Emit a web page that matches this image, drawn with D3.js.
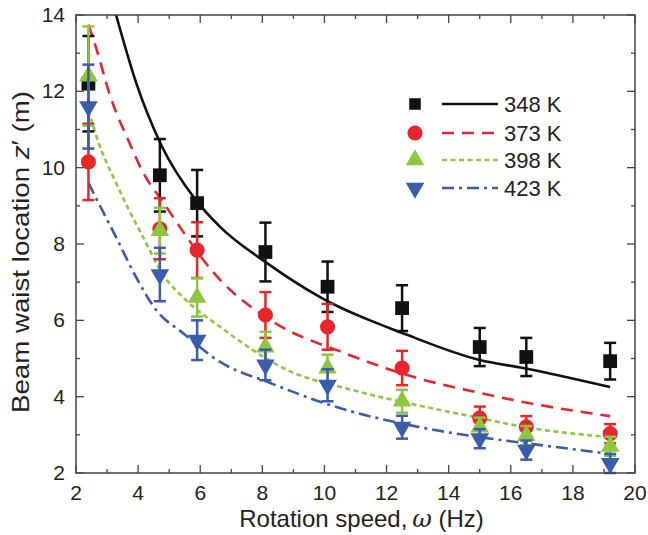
<!DOCTYPE html>
<html>
<head>
<meta charset="utf-8">
<script src="https://cdn.jsdelivr.net/npm/d3@7"></script>
<style>
  body { margin: 0; background: #fff; }
  text { font-family: Arial, "Liberation Sans", sans-serif; fill: #222; }
</style>
</head>
<body>
<div id="chart"></div>
<script>
// rotation speed (Hz) at which each temperature was measured
var speeds = [2.4, 4.7, 5.9, 8.1, 10.1, 12.5, 15, 16.5, 19.2]

var z348 = [12.2, 9.8, 9.07, 7.79, 6.88, 6.32, 5.3, 5.04, 4.93]
var e348 = [1.25, 0.95, 0.87, 0.77, 0.66, 0.6, 0.5, 0.5, 0.48]
var z373 = [10.15, 8.4, 7.84, 6.14, 5.83, 4.75, 3.44, 3.21, 3.03]
var e373 = [1.0, 0.8, 0.73, 0.6, 0.6, 0.45, 0.3, 0.28, 0.25]
var z398 = [12.4, 8.35, 6.6, 5.3, 4.75, 3.88, 3.2, 2.98, 2.7]
var e398 = [1.3, 0.6, 0.5, 0.4, 0.35, 0.3, 0.25, 0.25, 0.25]
var z423 = [11.6, 7.2, 5.48, 4.83, 4.3, 3.2, 2.9, 2.6, 2.25]
var e423 = [1.1, 0.7, 0.52, 0.4, 0.42, 0.3, 0.25, 0.25, 0.25]

// fitted curves as [speed, z]
var fit348 = [[3.29, 14], [3.93, 12.24], [4.74, 10.6], [5.86, 9.15], [6.64, 8.45], [8.15, 7.5],
  [9.86, 6.61], [12.66, 5.62], [15, 4.96], [16.4, 4.75], [19.2, 4.25]]
var fit373 = [[2.4, 13.75], [2.7, 13.0], [3.06, 11.98], [3.71, 10.67], [4.15, 9.89], [4.8, 9.1],
  [6.64, 7.06], [8.25, 6.01], [10.72, 5.12], [12.85, 4.52], [15, 4.1], [16.4, 3.86], [19.2, 3.49]]
var fit398 = [[2.4, 11.5], [2.75, 10.6], [3.29, 9.6], [3.7, 8.9], [4.16, 8.18], [4.8, 7.2],
  [5.54, 6.53], [6.64, 5.83], [8.8, 4.7], [10.92, 4.17], [12.98, 3.78], [15, 3.44], [16.4, 3.21], [19.2, 2.94]]
var fit423 = [[2.4, 9.6], [2.74, 9.05], [3.29, 8.18], [3.93, 7.14], [4.58, 6.27], [5.44, 5.67],
  [6.64, 4.91], [8.25, 4.36], [10.18, 3.78], [13.07, 3.2], [15, 2.94], [16.4, 2.79], [19.2, 2.5]]

var labels = ['348 K', '373 K', '398 K', '423 K']
var xTicks = [2, 4, 6, 8, 10, 12, 14, 16, 18, 20]
var yTicks = [2, 4, 6, 8, 10, 12, 14]

var series = [
  {name: labels[0], z: z348, err: e348, fit: fit348, color: '#111111', shape: 'square', dash: null},
  {name: labels[1], z: z373, err: e373, fit: fit373, color: '#e8252b', shape: 'circle', dash: '12,8'},
  {name: labels[2], z: z398, err: e398, fit: fit398, color: '#8dc63f', shape: 'up', dash: '5,3.5'},
  {name: labels[3], z: z423, err: e423, fit: fit423, color: '#3b5bab', shape: 'down', dash: '12,5,3,5'}
]

var totalW = 648, totalH = 535
var margin = {left: 76, right: 13, top: 15, bottom: 62}
var width = totalW - margin.left - margin.right
var height = totalH - margin.top - margin.bottom

var svg = d3.select('#chart').append('svg')
  .attr('width', totalW).attr('height', totalH)
var g = svg.append('g').attr('transform', 'translate(' + margin.left + ',' + margin.top + ')')

var x = d3.scaleLinear().domain([2, 20]).range([0, width])
var y = d3.scaleLinear().domain([2, 14]).range([height, 0])

var minorX = d3.range(2, 21, 1)
var minorY = d3.range(2, 15, 1)

// inward ticks on all four sides
function tickLen(v) { return v % 2 == 0 ? 8 : 4 }
var axisColor = '#444'
g.append('g').selectAll('line').data(minorX).join('line')
  .attr('x1', d => x(d)).attr('x2', d => x(d))
  .attr('y1', height).attr('y2', d => height - tickLen(d))
  .attr('stroke', axisColor).attr('stroke-width', 1.3)
g.append('g').selectAll('line').data(minorX).join('line')
  .attr('x1', d => x(d)).attr('x2', d => x(d))
  .attr('y1', 0).attr('y2', d => tickLen(d))
  .attr('stroke', axisColor).attr('stroke-width', 1.3)
g.append('g').selectAll('line').data(minorY).join('line')
  .attr('y1', d => y(d)).attr('y2', d => y(d))
  .attr('x1', 0).attr('x2', d => tickLen(d))
  .attr('stroke', axisColor).attr('stroke-width', 1.3)
g.append('g').selectAll('line').data(minorY).join('line')
  .attr('y1', d => y(d)).attr('y2', d => y(d))
  .attr('x1', width).attr('x2', d => width - tickLen(d))
  .attr('stroke', axisColor).attr('stroke-width', 1.3)

g.append('g').selectAll('text').data(xTicks).join('text')
  .attr('x', d => x(d)).attr('y', height + 27)
  .attr('text-anchor', 'middle').attr('font-size', 21)
  .text(d => d)
g.append('g').selectAll('text').data(yTicks).join('text')
  .attr('x', -11).attr('y', d => y(d) + 7)
  .attr('text-anchor', 'end').attr('font-size', 21)
  .text(d => d)

// fitted lines
var line = d3.line().x(d => x(d[0])).y(d => y(d[1])).curve(d3.curveMonotoneX)
g.append('defs').append('clipPath').attr('id', 'plot-clip')
  .append('rect').attr('width', width).attr('height', height)
var lines = g.append('g').attr('clip-path', 'url(#plot-clip)')
series.forEach(function(s) {
  lines.append('path')
    .attr('d', line(s.fit))
    .attr('fill', 'none')
    .attr('stroke', s.color)
    .attr('stroke-width', 2.6)
    .attr('stroke-dasharray', s.dash)
})

function symbolPath(shape, scale) {
  scale = scale || 1
  if (shape == 'square') return d3.symbol(d3.symbolSquare, 190 * scale)()
  if (shape == 'circle') return d3.symbol(d3.symbolCircle, 180 * scale)()
  return d3.symbol(d3.symbolTriangle, 150 * scale)()
}

// error bars and markers
series.forEach(function(s) {
  var pts = speeds.map(function(sp, i) { return {x: sp, z: s.z[i], e: s.err[i]} })
  var sg = g.append('g')
  var eb = sg.selectAll('g.eb').data(pts).join('g').attr('class', 'eb')
  eb.append('line')
    .attr('x1', d => x(d.x)).attr('x2', d => x(d.x))
    .attr('y1', d => y(d.z - d.e)).attr('y2', d => y(d.z + d.e))
    .attr('stroke', s.color).attr('stroke-width', 2.5)
  eb.selectAll('line.cap').data(d => [[d.x, d.z - d.e], [d.x, d.z + d.e]]).join('line')
    .attr('class', 'cap')
    .attr('x1', d => x(d[0]) - 6).attr('x2', d => x(d[0]) + 6)
    .attr('y1', d => y(d[1])).attr('y2', d => y(d[1]))
    .attr('stroke', s.color).attr('stroke-width', 2.5)
  sg.selectAll('path').data(pts).join('path')
    .attr('d', symbolPath(s.shape))
    .attr('transform', d => 'translate(' + x(d.x) + ',' + y(d.z) + ')' + (s.shape == 'down' ? ' rotate(180)' : ''))
    .attr('fill', s.color)
})

// frame
g.append('rect').attr('width', width).attr('height', height)
  .attr('fill', 'none').attr('stroke', axisColor).attr('stroke-width', 1.5)

// legend
var legend = svg.append('g').attr('transform', 'translate(415,104)')
var row = legend.selectAll('g').data(series).join('g')
  .attr('transform', (d, i) => 'translate(0,' + [0, 29, 56, 84][i] + ')')
row.append('path')
  .attr('d', d => symbolPath(d.shape, d.shape == 'square' ? 0.7 : 1))
  .attr('transform', d => d.shape == 'down' ? 'rotate(180)' : null)
  .attr('fill', d => d.color)
row.append('line')
  .attr('x1', 27).attr('x2', 83).attr('y1', 0).attr('y2', 0)
  .attr('stroke', d => d.color).attr('stroke-width', 2.6)
  .attr('stroke-dasharray', d => d.dash)
row.append('text')
  .attr('x', 89).attr('y', 8).attr('font-size', 22)
  .text(d => d.name)

// axis titles
svg.append('text')
  .attr('x', margin.left + width / 2 + 6).attr('y', totalH - 8)
  .attr('text-anchor', 'middle').attr('font-size', 24)
  .html('Rotation speed,&#8201;<tspan font-family="DejaVu Serif, serif" font-style="italic">ω</tspan> (Hz)')

svg.append('text')
  .attr('transform', 'translate(29,' + (margin.top + height / 2 + 8) + ') rotate(-90)')
  .attr('text-anchor', 'middle').attr('font-size', 24)
  .attr('textLength', 322).attr('lengthAdjust', 'spacingAndGlyphs')
  .html('Beam waist location <tspan font-style="italic">z</tspan>′ (m)')
</script>
</body>
</html>
